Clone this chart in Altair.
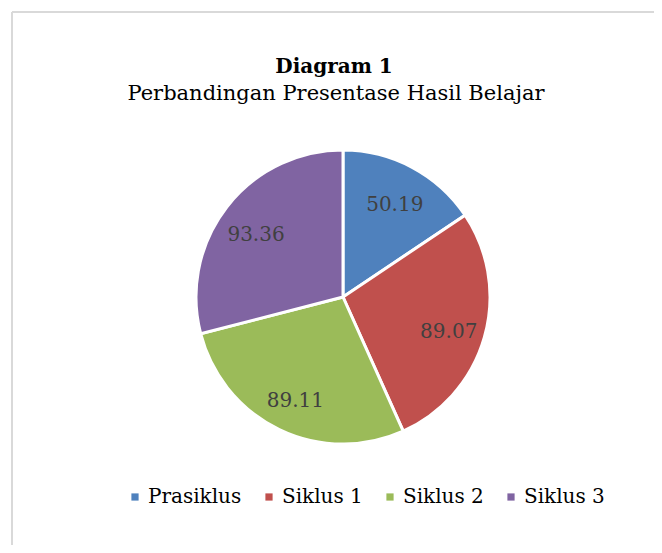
import altair as alt
import pandas as pd

categories = ["Prasiklus", "Siklus 1", "Siklus 2", "Siklus 3"]
values = [50.19, 89.07, 89.11, 93.36]
labels = ["50.19", "89.07", "89.11", "93.36"]
colors = ["#4F81BD", "#C0504D", "#9BBB59", "#8064A2"]
title_text = "Diagram 1"
subtitle_text = "Perbandingan Presentase Hasil Belajar"

df = pd.DataFrame({"kategori": categories, "nilai": values, "label": labels,
                   "urut": list(range(len(categories)))})

FONT = "DejaVu Serif"
W, H = 646, 537
CX, CY = 335, 289

color = alt.Color("kategori:N", scale=alt.Scale(domain=categories, range=colors),
                  legend=alt.Legend(title=None, orient="none", direction="horizontal",
                                    legendX=117, legendY=479, symbolType="square",
                                    symbolSize=52, symbolStrokeWidth=0,
                                    labelFont=FONT, labelFontSize=20, labelColor="#000000",
                                    columnPadding=17, labelOffset=3))

base = alt.Chart(df).encode(
    theta=alt.Theta("nilai:Q", stack=True),
    order=alt.Order("urut:Q"),
)

pie = base.mark_arc(outerRadius=147, stroke="white", strokeWidth=3).encode(
    color=color, x=alt.value(CX), y=alt.value(CY))

text = base.mark_text(radius=110, dy=5, font=FONT, fontSize=20, color="#404040").encode(
    text="label:N", x=alt.value(CX), y=alt.value(CY))

border_top = alt.Chart(df).mark_rule(color="#d9d9d9", strokeWidth=2).encode(
    x=alt.value(4), x2=alt.value(W), y=alt.value(4))
border_left = alt.Chart(df).mark_rule(color="#d9d9d9", strokeWidth=2).encode(
    x=alt.value(4), y=alt.value(4), y2=alt.value(H))

title_df = pd.DataFrame({"t": [title_text]})
sub_df = pd.DataFrame({"t": [subtitle_text]})
title_mark = alt.Chart(title_df).mark_text(
    font=FONT, fontSize=20, fontWeight="bold", color="#000000",
    align="center", baseline="alphabetic").encode(
    text="t:N", x=alt.value(326), y=alt.value(65))
sub_mark = alt.Chart(sub_df).mark_text(
    font=FONT, fontSize=21, color="#000000",
    align="center", baseline="alphabetic").encode(
    text="t:N", x=alt.value(328), y=alt.value(92))

chart = alt.layer(border_top, border_left, title_mark, sub_mark, pie, text).properties(
    width=W, height=H,
    background="white",
    autosize=alt.AutoSizeParams(type="none"),
    padding={"left": 0, "top": 0, "right": 0, "bottom": 0},
).configure_view(stroke="transparent")

chart.save("out.html", embed_options={"renderer": "svg", "actions": False})
